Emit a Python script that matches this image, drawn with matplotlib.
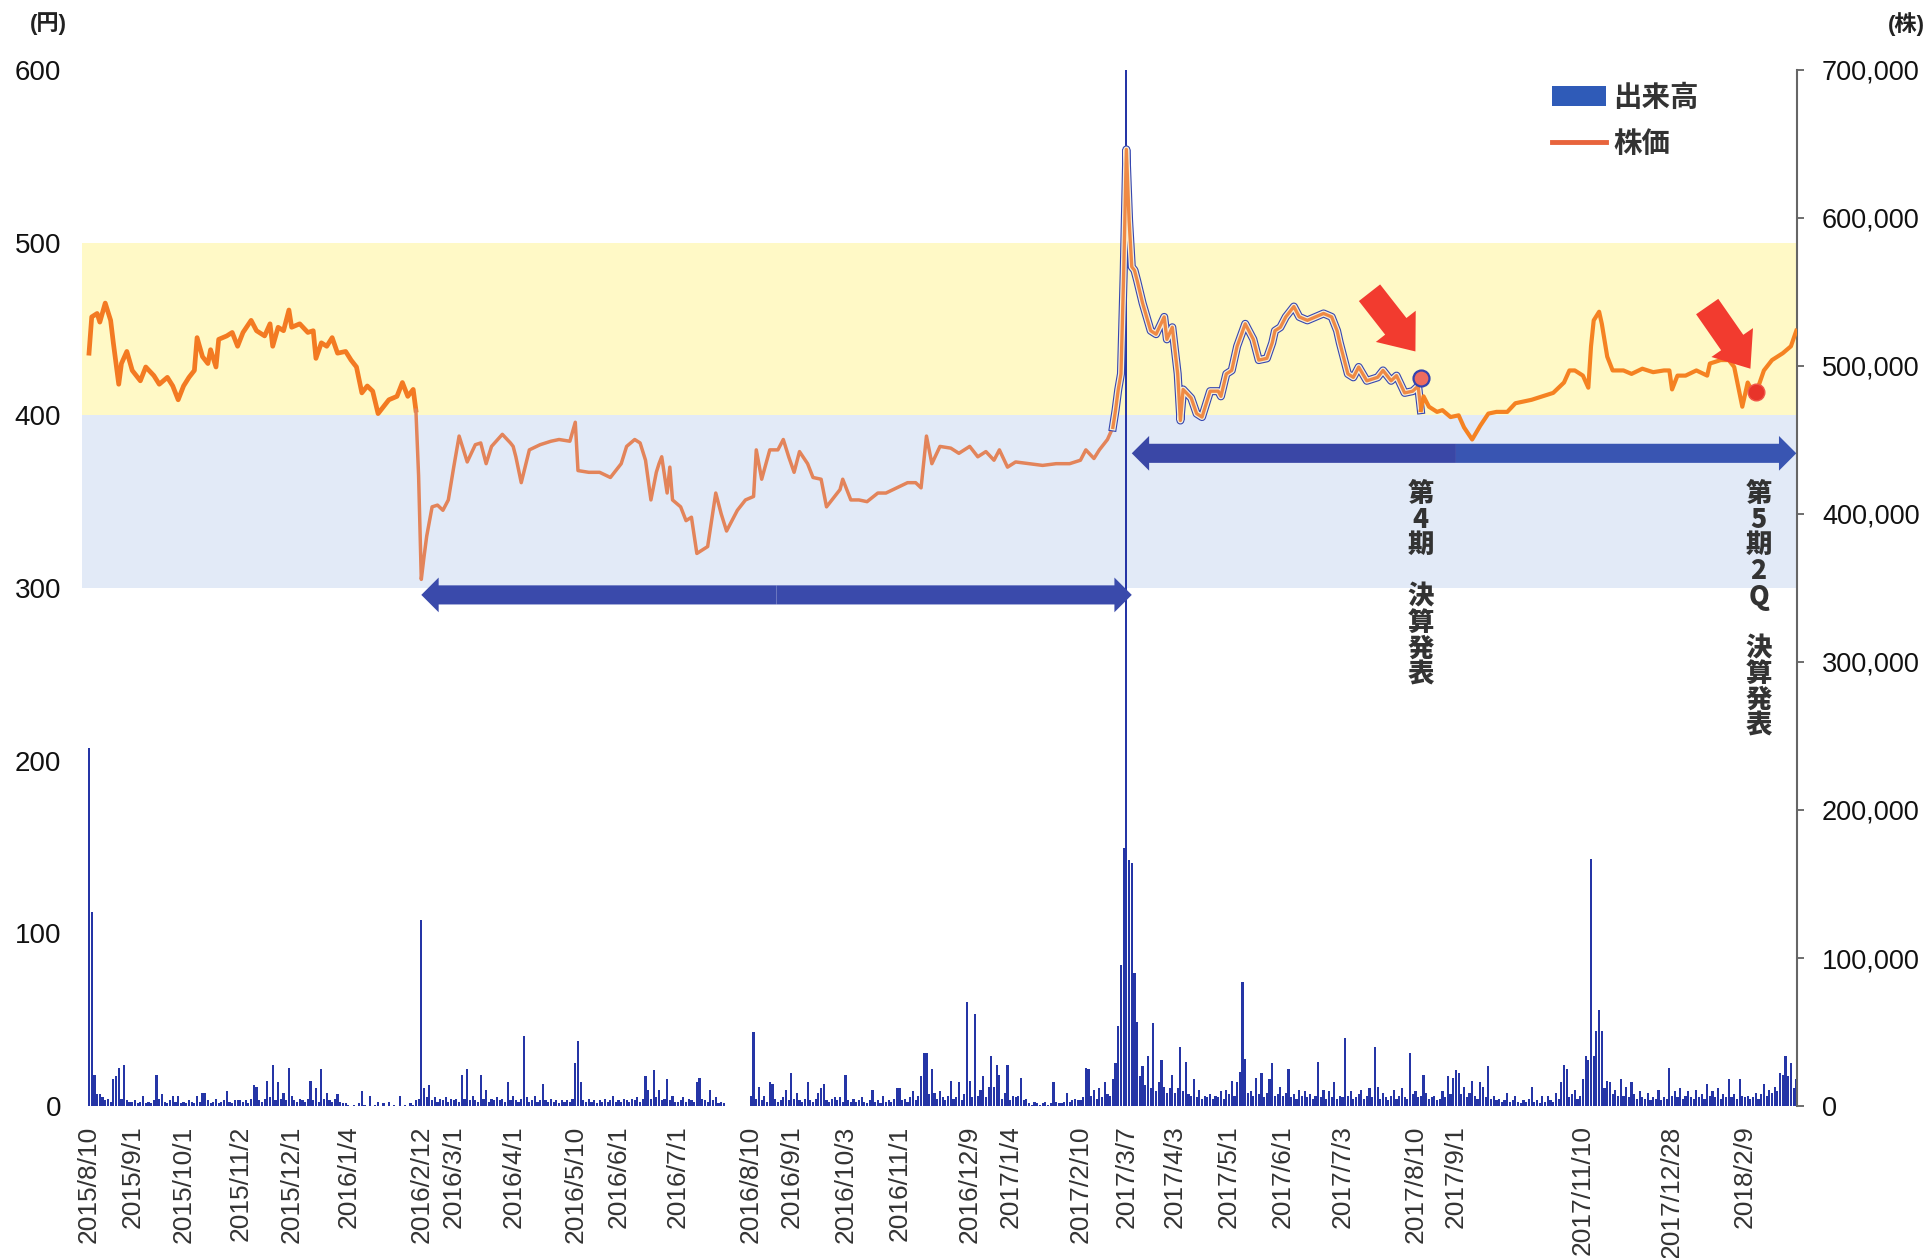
import numpy as np
import pandas as pd
import matplotlib
matplotlib.use("Agg")
import matplotlib.pyplot as plt
import matplotlib.transforms as mtransforms
from matplotlib import patheffects as pe
from matplotlib.patches import Patch, Rectangle
from matplotlib.lines import Line2D
from matplotlib.ticker import FuncFormatter

plt.rcParams['font.family'] = ['Liberation Sans', 'Noto Sans CJK JP', 'DejaVu Sans']
JP = ['Noto Sans CJK JP', 'DejaVu Sans']

# 東証休場日（期間中の平日）
holidays = [
    '2015-09-21', '2015-09-22', '2015-09-23', '2015-10-12', '2015-11-03', '2015-11-23',
    '2015-12-23', '2015-12-31',
    '2016-01-01', '2016-01-11', '2016-02-11', '2016-03-21', '2016-04-29', '2016-05-03',
    '2016-05-04', '2016-05-05', '2016-07-18', '2016-08-11', '2016-09-19', '2016-09-22',
    '2016-10-10', '2016-11-03', '2016-11-23', '2016-12-23',
    '2017-01-02', '2017-01-03', '2017-01-09', '2017-03-20', '2017-05-03', '2017-05-04',
    '2017-05-05', '2017-07-17', '2017-08-11', '2017-09-18', '2017-10-09', '2017-11-03',
    '2017-11-23',
    '2018-01-01', '2018-01-02', '2018-01-03', '2018-01-08', '2018-02-12',
]

# 出来高（千株、営業日ごと）
volume_k = [
    242, 131, 21, 8, 8, 6, 4, 5, 3, 18, 20, 26, 5, 28, 4, 3,                          # 2015/8
    3, 4, 2, 3, 7, 2, 3, 2, 4, 21, 5, 8, 3, 2, 4, 7, 3, 7, 2,                         # 2015/9
    3, 2, 4, 3, 2, 7, 3, 9, 9, 4, 2, 3, 5, 2, 3, 4, 10, 3, 2, 4, 4,                   # 2015/10
    4, 3, 4, 2, 5, 14, 13, 4, 3, 5, 17, 6, 28, 4, 16, 5, 9, 4, 26,                    # 2015/11
    7, 4, 3, 5, 4, 3, 5, 17, 4, 12, 3, 25, 5, 9, 4, 3, 5, 8, 3, 2, 2,                 # 2015/12
    1, 0, 1, 0, 2, 10, 1, 0, 7, 0, 1, 3, 0, 2, 0, 3, 0, 1, 0,                         # 2016/1
    7, 0, 1, 0, 2, 1, 4, 5, 126, 12, 6, 14, 4, 6, 3, 5, 4, 6, 3, 5,                   # 2016/2
    4, 5, 3, 21, 5, 25, 4, 7, 4, 3, 21, 5, 11, 3, 5, 4, 6, 4, 5, 3, 16, 4,            # 2016/3
    7, 4, 3, 5, 47, 6, 3, 4, 7, 3, 4, 15, 4, 3, 5, 3, 4, 2, 4, 3,                     # 2016/4
    4, 3, 5, 29, 44, 16, 4, 3, 5, 3, 4, 2, 4, 3, 5, 3, 4, 7, 3,                       # 2016/5
    4, 3, 5, 4, 3, 5, 4, 6, 3, 5, 20, 11, 5, 24, 6, 11, 4, 5, 18, 4, 7, 3,            # 2016/6
    3, 4, 6, 3, 5, 4, 3, 16, 19, 5, 4, 3, 11, 4, 6, 2, 3, 2, 0, 0,                    # 2016/7
    0, 0, 0, 0, 0, 0, 0, 7, 50, 5, 13, 4, 7, 3, 16, 15, 5, 3, 4, 6, 11, 4,            # 2016/8
    22, 5, 9, 4, 3, 5, 16, 4, 3, 5, 9, 12, 15, 4, 3, 5, 6, 4, 6, 3,                   # 2016/9
    21, 4, 3, 5, 3, 4, 6, 3, 2, 4, 11, 3, 4, 2, 7, 3, 4, 3, 5, 12,                    # 2016/10
    12, 4, 5, 3, 6, 10, 4, 7, 20, 36, 36, 8, 25, 9, 5, 10, 6, 4, 7, 17,               # 2016/11
    5, 6, 16, 4, 8, 70, 17, 6, 62, 7, 11, 20, 6, 13, 34, 13, 28, 21, 5, 9, 28,        # 2016/12
    4, 7, 6, 7, 19, 4, 5, 2, 1, 3, 2, 1, 2, 3, 1, 2, 16, 3, 2,                        # 2017/1
    2, 3, 9, 3, 4, 5, 4, 4, 6, 26, 25, 7, 11, 5, 12, 6, 16, 8, 7, 18,                 # 2017/2
    29, 54, 95, 174, 705, 166, 164, 90, 57, 20, 27, 14, 34, 12, 56, 10, 16, 31, 13,
    9, 12, 21,                                                                        # 2017/3
    9, 12, 40, 10, 30, 8, 7, 18, 6, 11, 5, 7, 6, 8, 5, 7, 6, 10, 5, 11,               # 2017/4
    8, 17, 7, 16, 23, 84, 32, 9, 10, 7, 19, 8, 22, 6, 9, 18, 29, 7, 8, 13,            # 2017/5
    7, 9, 25, 6, 8, 5, 11, 7, 10, 6, 8, 5, 7, 30, 6, 11, 5, 10, 6, 16, 5, 7,          # 2017/6
    6, 46, 7, 10, 5, 6, 8, 11, 5, 7, 12, 6, 40, 13, 5, 9, 6, 4, 7, 11,                # 2017/7
    5, 7, 12, 6, 5, 36, 8, 10, 6, 7, 21, 9, 5, 6, 7, 4, 5, 10, 6, 20, 8, 19,          # 2017/8
    24, 22, 8, 13, 6, 9, 17, 7, 5, 16, 13, 6, 27, 5, 7, 4, 5, 3, 4, 9,                # 2017/9
    3, 4, 7, 3, 2, 4, 3, 5, 13, 3, 4, 2, 7, 3, 7, 4, 3, 9, 5, 16, 28,                 # 2017/10
    25, 6, 8, 11, 5, 7, 18, 34, 31, 167, 34, 51, 65, 51, 12, 17, 16, 8, 11, 7,        # 2017/11
    18, 7, 13, 6, 16, 8, 5, 10, 6, 5, 9, 4, 6, 5, 11, 4, 6, 5, 26, 7, 10,             # 2017/12
    6, 12, 5, 7, 10, 6, 5, 11, 6, 8, 5, 15, 7, 10, 6, 12, 5, 8, 6,                    # 2018/1
    18, 6, 8, 5, 18, 7, 6, 7, 5, 6, 9, 5, 8, 15, 7, 11, 9, 13, 10,                    # 2018/2
    22, 21, 34, 20, 29, 12, 18,                                                       # 2018/3
]

# 株価（円）
price_dates = [
    '2015-08-10', '2015-08-11', '2015-08-13', '2015-08-14', '2015-08-18', '2015-08-20', '2015-08-21', '2015-08-25', '2015-08-26', '2015-08-28',
    '2015-09-01', '2015-09-04', '2015-09-08', '2015-09-11', '2015-09-15', '2015-09-18', '2015-09-25', '2015-09-29',
    '2015-10-01', '2015-10-05', '2015-10-07', '2015-10-08', '2015-10-13', '2015-10-15', '2015-10-16', '2015-10-20', '2015-10-21', '2015-10-26', '2015-10-28', '2015-10-30',
    '2015-11-04', '2015-11-09', '2015-11-11', '2015-11-16', '2015-11-18', '2015-11-19', '2015-11-24', '2015-11-26', '2015-11-30',
    '2015-12-01', '2015-12-04', '2015-12-09', '2015-12-11', '2015-12-14', '2015-12-16', '2015-12-18', '2015-12-22', '2015-12-25', '2015-12-30',
    '2016-01-05', '2016-01-07', '2016-01-12', '2016-01-14', '2016-01-18', '2016-01-20', '2016-01-22', '2016-01-26', '2016-01-29',
    '2016-02-02', '2016-02-04', '2016-02-08', '2016-02-09', '2016-02-10', '2016-02-12', '2016-02-15', '2016-02-16', '2016-02-18', '2016-02-22', '2016-02-24', '2016-02-26',
    '2016-03-01', '2016-03-03', '2016-03-08', '2016-03-11', '2016-03-15', '2016-03-17', '2016-03-22', '2016-03-28', '2016-03-31',
    '2016-04-01', '2016-04-04', '2016-04-06', '2016-04-11', '2016-04-15', '2016-04-21', '2016-04-26',
    '2016-05-06', '2016-05-10', '2016-05-11', '2016-05-17', '2016-05-23', '2016-05-27',
    '2016-06-02', '2016-06-06', '2016-06-09', '2016-06-13', '2016-06-15', '2016-06-17', '2016-06-21', '2016-06-22', '2016-06-23', '2016-06-27', '2016-06-28', '2016-06-29',
    '2016-07-04', '2016-07-06', '2016-07-08', '2016-07-12', '2016-07-19', '2016-07-22', '2016-07-26', '2016-07-28',
    '2016-08-03', '2016-08-08', '2016-08-12', '2016-08-15', '2016-08-17', '2016-08-22', '2016-08-25', '2016-08-29', '2016-08-31',
    '2016-09-02', '2016-09-06', '2016-09-09', '2016-09-13', '2016-09-16', '2016-09-21', '2016-09-26', '2016-09-29', '2016-09-30',
    '2016-10-05', '2016-10-11', '2016-10-14', '2016-10-20', '2016-10-25', '2016-10-31',
    '2016-11-07', '2016-11-10', '2016-11-14', '2016-11-16', '2016-11-18', '2016-11-24', '2016-11-30',
    '2016-12-05', '2016-12-09', '2016-12-14', '2016-12-19', '2016-12-22', '2016-12-27', '2016-12-30',
    '2017-01-06', '2017-01-16', '2017-01-23', '2017-01-30',
    '2017-02-06', '2017-02-10', '2017-02-14', '2017-02-17', '2017-02-21', '2017-02-24', '2017-02-28',
    '2017-03-01', '2017-03-02', '2017-03-03', '2017-03-06', '2017-03-07', '2017-03-08', '2017-03-09', '2017-03-10', '2017-03-13', '2017-03-15', '2017-03-21', '2017-03-23', '2017-03-28', '2017-03-29', '2017-03-31',
    '2017-04-04', '2017-04-05', '2017-04-06', '2017-04-11', '2017-04-13', '2017-04-17', '2017-04-20', '2017-04-25', '2017-04-26', '2017-04-28',
    '2017-05-02', '2017-05-09', '2017-05-12', '2017-05-16', '2017-05-17', '2017-05-19', '2017-05-24', '2017-05-26', '2017-05-29', '2017-05-31',
    '2017-06-02', '2017-06-07', '2017-06-09', '2017-06-14', '2017-06-19', '2017-06-22', '2017-06-27', '2017-06-29', '2017-06-30',
    '2017-07-05', '2017-07-07', '2017-07-11', '2017-07-14', '2017-07-21', '2017-07-25', '2017-07-28',
    '2017-08-01', '2017-08-04', '2017-08-09', '2017-08-14', '2017-08-15', '2017-08-16', '2017-08-18', '2017-08-23', '2017-08-25', '2017-08-30',
    '2017-09-04', '2017-09-06', '2017-09-11', '2017-09-14', '2017-09-20', '2017-09-25', '2017-09-29',
    '2017-10-04', '2017-10-10', '2017-10-13', '2017-10-19', '2017-10-25', '2017-10-31',
    '2017-11-02', '2017-11-07', '2017-11-10', '2017-11-14', '2017-11-15', '2017-11-16', '2017-11-20', '2017-11-21', '2017-11-24', '2017-11-28',
    '2017-12-04', '2017-12-07', '2017-12-13', '2017-12-19', '2017-12-25', '2017-12-27', '2017-12-28',
    '2018-01-04', '2018-01-10', '2018-01-16', '2018-01-22', '2018-01-23', '2018-01-29',
    '2018-02-01', '2018-02-05', '2018-02-08', '2018-02-13', '2018-02-15', '2018-02-19', '2018-02-21', '2018-02-26',
    '2018-03-02', '2018-03-07', '2018-03-09',
]
price_values = [
    436, 457, 459, 454, 465, 455, 442, 418, 430, 437,
    426, 420, 428, 423, 418, 422, 417, 409,
    417, 422, 426, 445, 434, 430, 438, 428, 444, 446, 448, 440,
    448, 455, 449, 446, 453, 440, 451, 449, 461,
    451, 453, 448, 449, 433, 442, 440, 445, 436, 437,
    432, 428, 413, 417, 414, 401, 405, 409, 411,
    419, 411, 415, 403, 365, 305, 318, 330, 347, 348, 345, 351,
    370, 388, 373, 383, 384, 372, 382, 389, 384,
    382, 376, 361, 380, 383, 385, 386,
    385, 396, 368, 367, 367, 364,
    372, 382, 386, 384, 374, 351, 367, 372, 376, 355, 370, 351,
    347, 339, 341, 320, 324, 355, 343, 333,
    345, 351, 353, 380, 363, 380, 380, 386, 376,
    367, 379, 372, 364, 363, 347, 351, 357, 363,
    351, 351, 350, 355, 355, 358,
    361, 361, 358, 388, 372, 382, 381,
    378, 382, 376, 379, 374, 380, 370,
    373, 372, 371, 372,
    372, 374, 380, 375, 380, 386, 393,
    403, 415, 424, 482, 554, 513, 486, 484, 478, 465, 449, 447, 457, 444, 451,
    424, 397, 415, 410, 401, 399, 414, 414, 411, 424,
    426, 440, 453, 447, 444, 432, 433, 442, 449, 451,
    457, 463, 457, 455, 457, 459, 457, 449, 442,
    424, 422, 428, 420, 422, 426, 420,
    423, 413, 414, 417, 403, 411, 405, 402, 403, 399,
    400, 393, 386, 394, 401, 402, 402,
    407, 408, 409, 411, 413, 419,
    426, 426, 423, 416, 440, 455, 460, 453, 434, 426,
    426, 424, 427, 425, 426, 426, 415,
    423, 423, 426, 423, 430, 432,
    432, 428, 405, 419, 413, 417, 426, 432,
    436, 440, 449,
]

tick_labels = [
    '2015/8/10', '2015/9/1', '2015/10/1', '2015/11/2', '2015/12/1', '2016/1/4', '2016/2/12',
    '2016/3/1', '2016/4/1', '2016/5/10', '2016/6/1', '2016/7/1', '2016/8/10', '2016/9/1',
    '2016/10/3', '2016/11/1', '2016/12/9', '2017/1/4', '2017/2/10', '2017/3/7', '2017/4/3',
    '2017/5/1', '2017/6/1', '2017/7/3', '2017/8/10', '2017/9/1', '2017/11/10', '2017/12/28',
    '2018/2/9',
]

# 株価ゾーン（円）
zone_upper = (400, 500)
zone_lower = (300, 400)

# 保有期間の矢印（開始日, 終了日, 高さ円）
span_first = ('2016-02-12', '2017-03-09', 296)
span_second = ('2017-03-09', '2017-09-01', 378)
span_third = ('2017-09-01', '2018-03-09', 378)

# 決算発表
events = ['2017-08-15', '2018-02-19']
event_texts = ['第\n4\n期\n\n決\n算\n発\n表', '第\n5\n期\n2\nQ\n\n決\n算\n発\n表']

assert len(price_dates) == len(price_values)

days = pd.bdate_range('2015-08-10', periods=len(volume_k), freq='C', holidays=holidays)


def xpos(d):
    return days.searchsorted(pd.Timestamp(d))


x_vol = np.arange(len(days))
x_price = days.searchsorted(pd.to_datetime(price_dates))
pv = np.array(price_values)
tick_x = days.searchsorted(pd.to_datetime(tick_labels, format='%Y/%m/%d'))

W, H = 1932, 1258
fig = plt.figure(figsize=(W / 100, H / 100), dpi=100)
ax_p = fig.add_axes([82 / W, 1 - 1106 / H, (1797 - 82) / W, (1106 - 70) / H])
ax_v = ax_p.twinx()
ax_p.set_zorder(ax_v.get_zorder() + 1)
ax_p.patch.set_visible(False)

ax_p.set_xlim(-2.6, len(days) - 0.75)
ax_p.set_ylim(0, 600)
ax_v.set_ylim(0, 700000)

# 背景のゾーン
band_tf = mtransforms.blended_transform_factory(ax_v.transAxes, ax_p.transData)
ax_v.add_patch(Rectangle((0, zone_upper[0]), 1, zone_upper[1] - zone_upper[0], transform=band_tf,
                         facecolor='#fff9c6', edgecolor='none', zorder=0))
ax_v.add_patch(Rectangle((0, zone_lower[0]), 1, zone_lower[1] - zone_lower[0], transform=band_tf,
                         facecolor='#e2eaf7', edgecolor='none', zorder=0))

# 出来高
ax_v.bar(x_vol, np.array(volume_k) * 1000, width=0.8, color='#2535a6', linewidth=0, zorder=2)

# 株価
c0, c1, c2 = xpos('2016-02-09'), xpos('2017-02-28'), xpos('2017-08-15')
s0 = x_price <= c0
s1 = (x_price >= c0) & (x_price <= c1)
s2 = (x_price >= c1) & (x_price <= c2)
s3 = x_price >= c2
ax_p.plot(x_price[s0], pv[s0], color='#f37a22', lw=3.4, zorder=4)
ax_p.plot(x_price[s1], pv[s1], color='#e3845a', lw=2.5, zorder=4)
ax_p.plot(x_price[s2], pv[s2], color='#ef8a45', lw=2.4, zorder=4,
          path_effects=[pe.Stroke(linewidth=5.8, foreground='#3546b0'),
                        pe.Stroke(linewidth=4.2, foreground='#f7efd8'), pe.Normal()])
ax_p.plot(x_price[s3], pv[s3], color='#f58222', lw=3.0, zorder=4)


def block_arrow(x_tail, x_tip, y, color):
    ax_p.annotate('', xy=(x_tip, y), xytext=(x_tail, y),
                  arrowprops=dict(arrowstyle='simple,head_length=0.5,head_width=1.0,tail_width=0.55',
                                  mutation_scale=25, fc=color, ec='none', shrinkA=0, shrinkB=0),
                  zorder=5)


a0, a1 = xpos(span_first[0]), xpos(span_first[1])
mid = (a0 + a1) / 2
block_arrow(mid, a0, span_first[2], '#3a4aab')
block_arrow(mid, a1, span_first[2], '#3a4aab')
block_arrow(xpos(span_second[1]), xpos(span_second[0]), span_second[2], '#3a47a6')
block_arrow(xpos(span_third[0]), xpos(span_third[1]), span_third[2], '#3955b2')

# 赤い矢印
for (t_d, t_y), (h_d, h_y) in [(('2017-07-18', 471), ('2017-08-10', 437)),
                               (('2018-01-22', 463), ('2018-02-14', 427))]:
    ax_p.annotate('', xy=(xpos(h_d), h_y), xytext=(xpos(t_d), t_y),
                  arrowprops=dict(arrowstyle='simple,head_length=0.85,head_width=1.35,tail_width=0.72',
                                  mutation_scale=27, fc='#f23b2f', ec='none', shrinkA=0, shrinkB=0),
                  zorder=6)

ax_p.plot(xpos('2017-08-15'), 421.6, 'o', ms=11.5, mfc='#ee6c5e', mec='#3343b0', mew=1.6, zorder=7)
ax_p.plot(xpos('2018-02-16'), 413.5, 'o', ms=12, mfc='#e8342a', mec='#f0564a', mew=1, zorder=7)

for d, txt in zip(events, event_texts):
    ax_p.text(xpos(d), 363, txt, ha='center', va='top', fontsize=19, fontweight='heavy',
              family=JP, color='#333333', linespacing=0.88, zorder=7)

# 軸
ax_p.set_yticks(range(0, 601, 100))
ax_v.set_yticks(range(0, 700001, 100000))
ax_v.yaxis.set_major_formatter(FuncFormatter(lambda v, p: f'{v:,.0f}'))
ax_p.set_xticks(tick_x)
ax_p.set_xticklabels(tick_labels, rotation=90)

ax_p.tick_params(axis='x', length=0, pad=14, labelsize=19, labelcolor='#333333')
ax_p.tick_params(axis='y', length=0, pad=15, labelsize=20, labelcolor='#111111')
ax_v.tick_params(axis='y', length=5, width=1.2, color='#555555', direction='out', pad=13,
                 labelsize=19.5, labelcolor='#111111')

for s in ax_p.spines.values():
    s.set_visible(False)
for k, s in ax_v.spines.items():
    s.set_visible(k == 'right')
ax_v.spines['right'].set_color('#666666')
ax_v.spines['right'].set_linewidth(1.5)

# 凡例
handles = [Patch(facecolor='#2f5bb8', edgecolor='none'),
           Line2D([], [], color='#e8643c', lw=3.5)]
fig.legend(handles, ['出来高', '株価'], loc='upper left', bbox_to_anchor=(1552 / W, 1 - 84 / H),
           frameon=False, borderpad=0, borderaxespad=0, handlelength=1.9, handletextpad=0.25,
           labelspacing=0.62, prop={'family': JP, 'weight': 'bold', 'size': 20.5}, labelcolor='#333333')

unit_font = ['Liberation Sans', 'Noto Sans CJK JP']
fig.text(48 / W, 1 - 24 / H, '(円)', ha='center', va='center', fontsize=16, fontweight='bold',
         family=unit_font, color='#222222')
fig.text(1906 / W, 1 - 24 / H, '(株)', ha='center', va='center', fontsize=16, fontweight='bold',
         family=unit_font, color='#222222')

fig.savefig('out.png', dpi=100)
